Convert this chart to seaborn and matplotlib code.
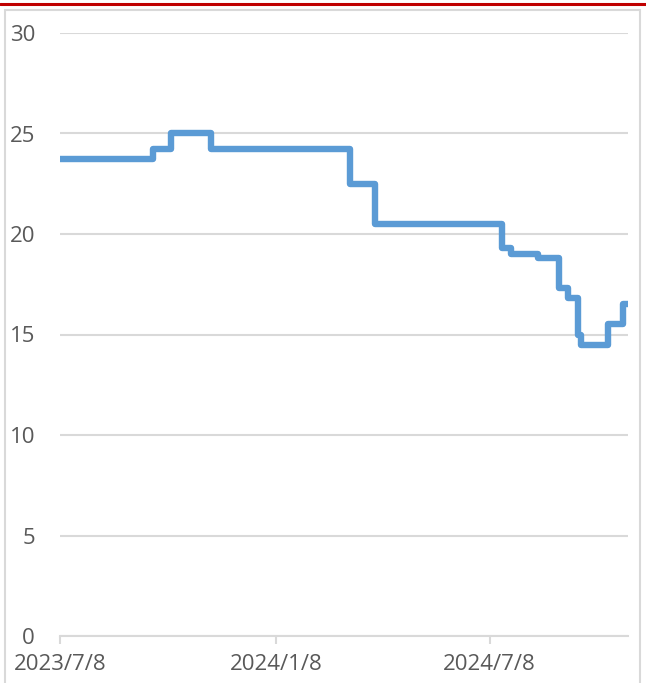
import pandas as pd
import matplotlib
matplotlib.use("Agg")
import matplotlib.pyplot as plt
from matplotlib.patches import Rectangle
from matplotlib.lines import Line2D
import seaborn as sns

# datos (escalón: cada fecha abre un nuevo nivel)
fechas = ["2023-07-08", "2023-09-25", "2023-10-11", "2023-11-14", "2024-03-11",
          "2024-04-01", "2024-07-19", "2024-07-26", "2024-08-18", "2024-09-05",
          "2024-09-13", "2024-09-21", "2024-09-24", "2024-10-17", "2024-10-30",
          "2024-11-03"]
valores = [23.75, 24.25, 25.0, 24.25, 22.5,
           20.5, 19.3, 19.0, 18.8, 17.3,
           16.8, 15.0, 14.5, 15.5, 16.5,
           16.5]
ticks_x = ["2023-07-08", "2024-01-08", "2024-07-08"]
etiquetas_x = ["2023/7/8", "2024/1/8", "2024/7/8"]
ticks_y = [0, 5, 10, 15, 20, 25, 30]

df = pd.DataFrame({"fecha": pd.to_datetime(fechas), "valor": valores})

sns.set_theme(style="white")
plt.rcParams["font.family"] = ["Open Sans", "DejaVu Sans"]

fig = plt.figure(figsize=(6.46, 6.83), dpi=100)
ax = fig.add_axes([60/646, 47/683, 568/646, 603/683])

sns.lineplot(data=df, x="fecha", y="valor", ax=ax, color="#5B9BD5",
             linewidth=4.6, drawstyle="steps-post", solid_joinstyle="round",
             solid_capstyle="round")

ax.set_ylim(0, 30)
ax.set_xlim(df.fecha.iloc[0], df.fecha.iloc[-1])
ax.set_yticks(ticks_y)
ax.set_yticklabels([str(t) for t in ticks_y])
ax.set_xticks(pd.to_datetime(ticks_x))
ax.set_xticklabels(etiquetas_x)
ax.set_xlabel("")
ax.set_ylabel("")

ax.grid(axis="y", color="#D9D9D9", linewidth=1.5)
ax.grid(axis="x", visible=False)
for lado in ["top", "right", "left"]:
    ax.spines[lado].set_visible(False)
ax.spines["bottom"].set_color("#D9D9D9")
ax.spines["bottom"].set_linewidth(1.5)
ax.tick_params(axis="x", bottom=True, length=6, width=1.5, color="#D9D9D9",
               labelsize=16, labelcolor="#595959", pad=7)
ax.tick_params(axis="y", left=False, length=0, labelsize=16, labelcolor="#595959", pad=18)

# marco: borde gris y línea roja arriba
fig.patches.append(Rectangle((5/646, -0.01), 635/646, 0.996, transform=fig.transFigure,
                             fill=False, edgecolor="#D9D9D9", linewidth=1.5))
fig.lines.append(Line2D([0, 1], [1 - 4/683, 1 - 4/683], transform=fig.transFigure,
                        color="#C00000", linewidth=2.2))

fig.savefig("out.png", dpi=100)
